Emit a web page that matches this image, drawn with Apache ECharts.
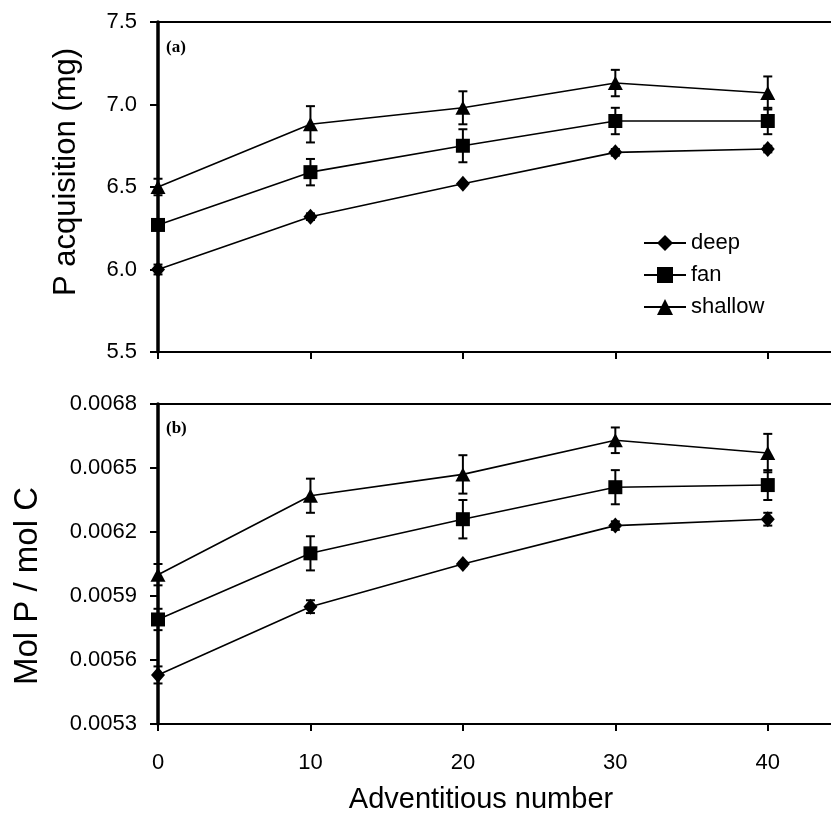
<!DOCTYPE html>
<html>
<head>
<meta charset="utf-8">
<title>P acquisition</title>
<script src="https://cdn.jsdelivr.net/npm/echarts@6/dist/echarts.min.js"></script>
<style>
  html, body { margin: 0; padding: 0; background: #fff; }
  #chart { width: 831px; height: 817px; }
</style>
</head>
<body>
<div id="chart"></div>
<script>
// adventitious number
var xValues = [0, 10, 20, 30, 40];
var seriesNames = ['deep', 'fan', 'shallow'];

// (a) P acquisition (mg)
var pDeep = [6.00, 6.32, 6.52, 6.71, 6.73];
var pFan = [6.27, 6.59, 6.75, 6.90, 6.90];
var pShallow = [6.50, 6.88, 6.98, 7.13, 7.07];
var pDeepErr = [0.03, 0.02, 0.01, 0.02, 0.02];
var pFanErr = [0.03, 0.08, 0.10, 0.08, 0.08];
var pShallowErr = [0.05, 0.11, 0.10, 0.08, 0.10];

// (b) mol P / mol C
var rDeep = [0.00553, 0.00585, 0.00605, 0.00623, 0.00626];
var rFan = [0.00579, 0.00610, 0.00626, 0.00641, 0.00642];
var rShallow = [0.00600, 0.00637, 0.00647, 0.00663, 0.00657];
var rDeepErr = [0.00004, 0.00003, 0.00001, 0.00002, 0.00003];
var rFanErr = [0.00005, 0.00008, 0.00009, 0.00008, 0.00007];
var rShallowErr = [0.00005, 0.00008, 0.00009, 0.00006, 0.00009];

var symbols = ['diamond', 'rect', 'triangle'];
var symbolSizes = [[14, 16], 14, [15, 14]];

var myChart = echarts.init(document.getElementById('chart'));

function pairs(ys) {
  return ys.map(function (y, i) { return [xValues[i], y]; });
}
function errData(ys, errs) {
  return ys.map(function (y, i) { return [xValues[i], y - errs[i], y + errs[i]]; });
}

// draws the error whiskers through the axis scales
function renderErr(params, api) {
  var lo = api.coord([api.value(0), api.value(1)]);
  var hi = api.coord([api.value(0), api.value(2)]);
  var cap = 4.5;
  var style = { stroke: '#000', lineWidth: 2 };
  return {
    type: 'group',
    children: [
      { type: 'line', shape: { x1: lo[0], y1: lo[1], x2: hi[0], y2: hi[1] }, style: style },
      { type: 'line', shape: { x1: hi[0] - cap, y1: hi[1], x2: hi[0] + cap, y2: hi[1] }, style: style },
      { type: 'line', shape: { x1: lo[0] - cap, y1: lo[1], x2: lo[0] + cap, y2: lo[1] }, style: style }
    ]
  };
}

var tickFont = { color: '#000', fontFamily: 'Liberation Sans', fontSize: 22 };

function xAxisFor(gridIndex, showLabel) {
  return {
    type: 'value',
    gridIndex: gridIndex,
    min: 0,
    max: 45,
    interval: 10,
    axisLine: { show: true, lineStyle: { color: '#000', width: 2 } },
    axisTick: { show: true, inside: false, length: 7, lineStyle: { color: '#000', width: 2 } },
    axisLabel: {
      show: showLabel,
      margin: 28,
      fontFamily: 'Liberation Sans',
      fontSize: 22,
      color: '#000',
      formatter: function (v) { return v % 10 === 0 ? String(v) : ''; }
    },
    splitLine: { show: false }
  };
}

function yAxisFor(gridIndex, min, max, interval, digits) {
  return {
    type: 'value',
    gridIndex: gridIndex,
    min: min,
    max: max,
    interval: interval,
    axisLine: { show: true, lineStyle: { color: '#000', width: 3.5 } },
    axisTick: { show: true, inside: false, length: 8, lineStyle: { color: '#000', width: 2 } },
    axisLabel: Object.assign({
      margin: 21,
      formatter: function (v) { return v.toFixed(digits); }
    }, tickFont),
    splitLine: { show: false }
  };
}

var topSets = [[pDeep, pDeepErr], [pFan, pFanErr], [pShallow, pShallowErr]];
var bottomSets = [[rDeep, rDeepErr], [rFan, rFanErr], [rShallow, rShallowErr]];

var series = [];
[topSets, bottomSets].forEach(function (sets, g) {
  sets.forEach(function (set, k) {
    series.push({
      type: 'custom',
      xAxisIndex: g,
      yAxisIndex: g,
      renderItem: renderErr,
      encode: { x: 0, y: [1, 2] },
      data: errData(set[0], set[1]),
      silent: true,
      z: 1
    });
    series.push({
      name: seriesNames[k],
      type: 'line',
      xAxisIndex: g,
      yAxisIndex: g,
      data: pairs(set[0]),
      symbol: symbols[k],
      symbolSize: symbolSizes[k],
      showAllSymbol: true,
      color: '#000',
      itemStyle: { color: '#000' },
      lineStyle: { color: '#000', width: 1.6 },
      z: 2
    });
  });
});

var option = {
  backgroundColor: '#fff',
  animation: false,
  textStyle: { fontFamily: 'Liberation Sans', color: '#000' },
  grid: [
    { left: 158, top: 22, width: 686, height: 330, show: true, borderColor: '#000', borderWidth: 2, outerBoundsMode: 'none', containLabel: false },
    { left: 158, top: 404, width: 686, height: 320, show: true, borderColor: '#000', borderWidth: 2, outerBoundsMode: 'none', containLabel: false }
  ],
  legend: {
    show: true,
    data: seriesNames,
    orient: 'vertical',
    left: 643,
    top: 232,
    itemWidth: 42,
    itemHeight: 20,
    itemGap: 10,
    padding: 0,
    selectedMode: false,
    textStyle: { color: '#000', fontFamily: 'Liberation Sans', fontSize: 22 }
  },
  xAxis: [xAxisFor(0, false), xAxisFor(1, true)],
  yAxis: [
    yAxisFor(0, 5.5, 7.5, 0.5, 1),
    yAxisFor(1, 0.0053, 0.0068, 0.0003, 4)
  ],
  graphic: [
    { type: 'text', left: 166, top: 39, style: { text: '(a)', font: 'bold 17px "Liberation Serif"', fill: '#000' } },
    { type: 'text', left: 166, top: 420, style: { text: '(b)', font: 'bold 17px "Liberation Serif"', fill: '#000' } },
    { type: 'text', x: 66, y: 172, rotation: Math.PI / 2, style: { text: 'P acquisition (mg)', font: '31px "Liberation Sans"', fill: '#000', textAlign: 'center', textVerticalAlign: 'middle' } },
    { type: 'text', x: 28, y: 586, rotation: Math.PI / 2, style: { text: 'Mol P / mol C', font: '33px "Liberation Sans"', fill: '#000', textAlign: 'center', textVerticalAlign: 'middle' } },
    { type: 'text', x: 481, y: 800, style: { text: 'Adventitious number', font: '29px "Liberation Sans"', fill: '#000', textAlign: 'center', textVerticalAlign: 'middle' } }
  ],
  series: series
};

myChart.setOption(option);
</script>
</body>
</html>
